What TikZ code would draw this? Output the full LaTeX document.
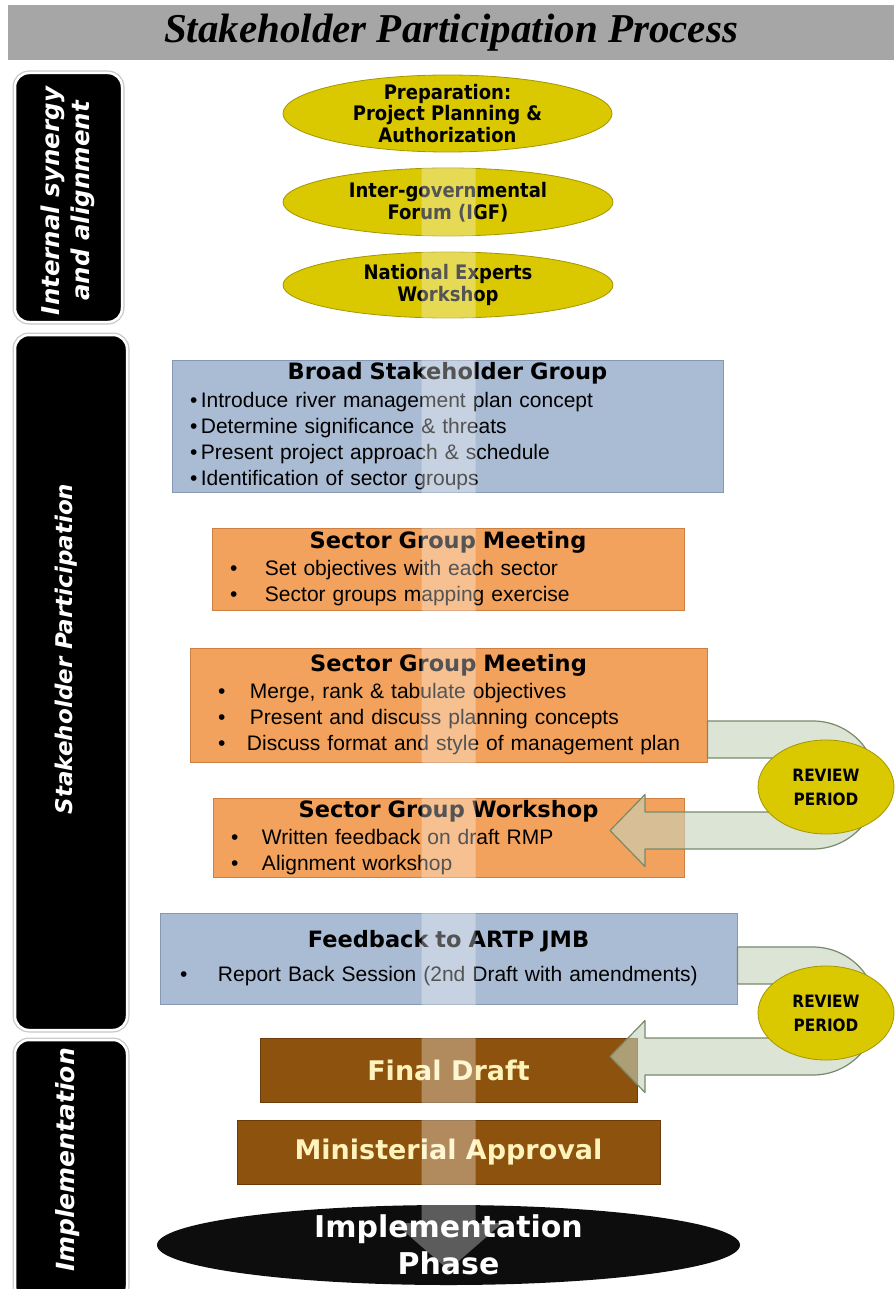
\documentclass[tikz,border=0pt]{standalone}
\usepackage{fontspec}
\setmainfont{Liberation Sans}
\newfontfamily\headfont{DejaVu Sans}
\newfontfamily\condfont{DejaVu Sans Condensed}
\newfontfamily\capfont{Liberation Serif}
\usepackage{tikz}
\usetikzlibrary{positioning}
\usetikzlibrary{shapes.geometric,calc}
\definecolor{bargray}{RGB}{166,166,166}
\definecolor{ellyellow}{RGB}{218,200,0}
\definecolor{ellline}{RGB}{165,150,0}
\definecolor{boxblue}{RGB}{170,187,212}
\definecolor{blueline}{RGB}{135,152,180}
\definecolor{boxorange}{RGB}{242,162,92}
\definecolor{orangeline}{RGB}{205,128,68}
\definecolor{boxbrown}{RGB}{140,82,14}
\definecolor{brownline}{RGB}{105,60,10}
\definecolor{cream}{RGB}{255,243,188}
\definecolor{loopfill}{RGB}{198,210,188}
\definecolor{loopline}{RGB}{120,138,105}
\tikzstyle{yell} = [ellipse, draw=ellline, fill=ellyellow, line width=0.8pt, inner sep=0pt]
\tikzstyle{ytext} = [align=center, font=\condfont\bfseries\fontsize{20}{21.5}\selectfont]
\tikzstyle{loop} = [fill=loopfill, fill opacity=0.6, draw=loopline, line width=1.2pt, line join=round]
\newcommand{\boxhead}[1]{\makebox[\linewidth]{\headfont\bfseries\fontsize{22.5}{26}\selectfont #1}}
\newcommand{\bul}[2][33pt]{\makebox[#1][l]{\textbullet}#2}
% fat u-turn arrow round a review ellipse, back into the box below
\newcommand{\reviewloop}[2]{%
	\path (#1) ++(-13,-2) coordinate (lc)
	($(lc)+(0,-64)$) coordinate (lt)
	($(lc)+(0,-27)$) coordinate (li);
	\draw[loop] (#2.east |- lt) -- (lt) arc[start angle=-90, end angle=90, radius=64]
	-- ($(lc)+(-168,64)$) -- ($(lc)+(-168,81.5)$) -- ($(lc)+(-203,45.5)$)
	-- ($(lc)+(-168,9.5)$) -- ($(lc)+(-168,27)$) -- ($(lc)+(0,27)$)
	arc[start angle=90, end angle=-90, radius=27] -- (#2.east |- li) -- cycle;
}

\begin{document}
\begin{tikzpicture}[x=1pt,y=-1pt,
	sidebar/.style = {rectangle, rounded corners=14, fill=black, draw=white,
		line width=2.5pt, preaction={draw=black!22, line width=5pt}},
	bartext/.style = {rotate=90, text=white, align=center,
		font=\headfont\bfseries\itshape\fontsize{#1}{30}\selectfont},
	bartext/.default = 23,
	box/.style = {rectangle, inner sep=0pt, line width=1pt, align=left,
		font=\fontsize{21}{26}\selectfont},
	bluebox/.style = {box, fill=boxblue, draw=blueline},
	orangebox/.style = {box, fill=boxorange, draw=orangeline},
	brownbox/.style = {rectangle, inner sep=0pt, fill=boxbrown, draw=brownline,
		line width=1pt, text=cream, font=\headfont\bfseries\fontsize{27}{30}\selectfont},
	review/.style = {yell, minimum width=136, minimum height=94, align=center,
		font=\condfont\bfseries\fontsize{17}{24}\selectfont},
	band/.style = {fill=white, fill opacity=0.33},
	]
	\useasboundingbox (0,0) rectangle (894,1289);
	\fill[white] (0,0) rectangle (894,1289);
	
	\node[fill=bargray, minimum width=886, minimum height=55, inner sep=0pt,
		font=\capfont\bfseries\itshape\fontsize{41}{44}\selectfont] (title) at (451,32.5)
		{Stakeholder Participation Process};
	
	% left side bars
	\node[sidebar, minimum width=107, minimum height=249] (synbar) at (68.5,197.5) {};
	\node[bartext=24.5] (syntext) at (68,201) {Internal synergy\\and alignment};
	\node[sidebar, minimum width=112, minimum height=695] (partbar) at (71,682.5) {};
	\node[bartext] (parttext) at (66,649) {Stakeholder Participation};
	\node[sidebar, minimum width=112, minimum height=260] (implbar) at (71,1170) {};
	\node[bartext=25] (impltext) at (68,1160) {Implementation};
	
	\node[yell, minimum width=329, minimum height=77,
		label={[ytext]center:{Preparation:\\Project Planning \&\\Authorization}}] (prep) at (447.5,113.5) {};
	\node[yell, minimum width=330, minimum height=68,
		label={[ytext]center:{Inter-governmental\\Forum (IGF)}}] (igf) at (448,202) {};
	\node[yell, minimum width=330, minimum height=66,
		label={[ytext]center:{National Experts\\Workshop}}] (nexp) at (448,285) {};
	
	\node[bluebox, minimum width=551, minimum height=132, text width=515] (bsg) at (447.5,426)
	{\boxhead{Broad Stakeholder Group}\\[2pt]
		\textbullet\,Introduce river management plan concept\\
		\textbullet\,Determine significance \& threats\\
		\textbullet\,Present project approach \& schedule\\
		\textbullet\,Identification of sector groups};
	\node[orangebox, minimum width=472, minimum height=82, text width=436] (sgm1) at (448,569)
	{\boxhead{Sector Group Meeting}\\[1pt]
		\bul[35pt]{Set objectives with each sector}\\
		\bul[35pt]{Sector groups mapping exercise}};
	\node[orangebox, minimum width=517, minimum height=114, text width=461] (sgm2) at (448.5,705)
	{\boxhead{Sector Group Meeting}\\[1pt]
		\bul[32pt]{Merge, rank \& tabulate objectives}\\
		\bul[32pt]{Present and discuss planning concepts}\\
		\mbox{\bul[29pt]{Discuss format and style of management plan}}};
	\node[orangebox, minimum width=471, minimum height=79, text width=435] (sgw) at (448.5,837.5)
	{\boxhead{Sector Group Workshop}\\[1pt]
		\bul[31pt]{Written feedback on draft RMP}\\
		\bul[31pt]{Alignment workshop}};
	\node[bluebox, minimum width=577, minimum height=91, text width=537] (fb) at (448.5,958.5)
	{\boxhead{Feedback to ARTP JMB}\\[8pt]
		\bul[38pt]{Report Back Session (2nd Draft with amendments)}};
	
	\node[brownbox, minimum width=377, minimum height=64] (fdraft) at (448.5,1070) {Final Draft};
	\node[brownbox, minimum width=423, minimum height=64] (minapp) at (448.5,1152) {Ministerial Approval};
	
	\coordinate (rc1) at (826,787);
	\coordinate (rc2) at (826,1013);
	\reviewloop{rc1}{sgm2}
	\reviewloop{rc2}{fb}
	\node[review] (rev1) at (rc1) {REVIEW\\PERIOD};
	\node[review] (rev2) at (rc2) {REVIEW\\PERIOD};
	
	\node[ellipse, fill=black!95, inner sep=0pt, minimum width=583, minimum height=80,
		label={[align=center, text=white, font=\headfont\bfseries\fontsize{30}{37}\selectfont]center:{Implementation\\Phase}}]
		(impl) at (448.5,1245) {};
	
	% light band running down the middle
	\coordinate (bt) at (igf.north -| impl.center);
	\fill[band] ($(bt)+(-27,0)$) -- ($(impl.center)+(-27,-22)$) -- ($(impl.center)+(-54,-22)$)
	-- ($(impl.center)+(0,25)$) -- ($(impl.center)+(54,-22)$) -- ($(impl.center)+(27,-22)$)
	-- ($(bt)+(27,0)$) -- cycle;
\end{tikzpicture}
\end{document}
